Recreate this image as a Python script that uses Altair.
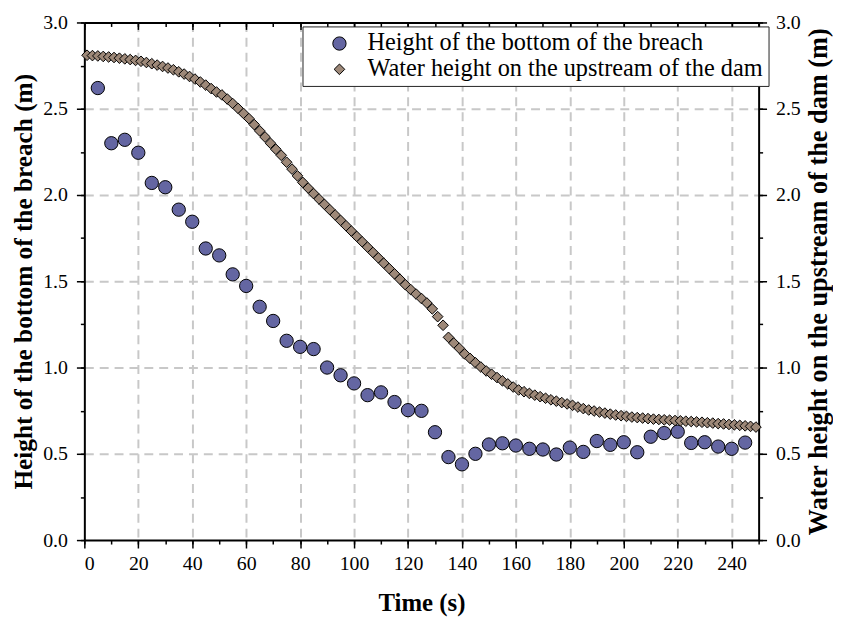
import altair as alt
import pandas as pd

# ---- data ----
series_names = ["Height of the bottom of the breach",
                "Water height on the upstream of the dam"]

t_breach = [5, 10, 15, 20, 25, 30, 35, 40, 45, 50,
            55, 60, 65, 70, 75, 80, 85, 90, 95, 100,
            105, 110, 115, 120, 125, 130, 135, 140, 145, 150,
            155, 160, 165, 170, 175, 180, 185, 190, 195, 200,
            205, 210, 215, 220, 225, 230, 235, 240, 245]
h_breach = [2.62, 2.30, 2.32, 2.245, 2.07, 2.045, 1.915, 1.845, 1.69, 1.65,
            1.54, 1.473, 1.352, 1.27, 1.155, 1.12, 1.107, 1.00, 0.955, 0.908,
            0.84, 0.856, 0.80, 0.753, 0.749, 0.625, 0.481, 0.439, 0.50, 0.554,
            0.561, 0.548, 0.529, 0.525, 0.496, 0.536, 0.511, 0.574, 0.552, 0.567,
            0.509, 0.599, 0.62, 0.628, 0.563, 0.567, 0.542, 0.529, 0.565]

t_water = list(range(1, 250, 2))
h_water = [2.810, 2.808, 2.806, 2.803, 2.800, 2.797, 2.793, 2.789, 2.785, 2.780,
           2.775, 2.768, 2.761, 2.753, 2.745, 2.736, 2.726, 2.714, 2.701, 2.687,
           2.672, 2.655, 2.637, 2.617, 2.597, 2.580, 2.556, 2.530, 2.502, 2.473,
           2.443, 2.408, 2.372, 2.336, 2.300, 2.265, 2.230, 2.190, 2.150, 2.111,
           2.073, 2.040, 2.008, 1.977, 1.946, 1.915, 1.884, 1.853, 1.822, 1.791,
           1.760, 1.729, 1.698, 1.667, 1.636, 1.605, 1.574, 1.543, 1.512, 1.480,
           1.452, 1.426, 1.400, 1.374, 1.340, 1.295, 1.245, 1.175, 1.142, 1.112,
           1.079, 1.053, 1.028, 1.003, 0.980, 0.961, 0.942, 0.923, 0.905, 0.887,
           0.870, 0.860, 0.850, 0.840, 0.831, 0.822, 0.813, 0.805, 0.797, 0.789,
           0.781, 0.771, 0.762, 0.754, 0.748, 0.742, 0.736, 0.730, 0.725, 0.721,
           0.717, 0.713, 0.710, 0.707, 0.704, 0.701, 0.699, 0.697, 0.695, 0.693,
           0.691, 0.689, 0.687, 0.685, 0.683, 0.680, 0.678, 0.675, 0.673, 0.670,
           0.668, 0.665, 0.662, 0.659, 0.655]

x_major = [0, 20, 40, 60, 80, 100, 120, 140, 160, 180, 200, 220, 240]
x_minor = [0, 10, 20, 30, 40, 50, 60, 70, 80, 90, 100, 110, 120, 130, 140,
           150, 160, 170, 180, 190, 200, 210, 220, 230, 240, 250]
x_grid = [20, 40, 60, 80, 100, 120, 140, 160, 180, 200, 220, 240]
y_major = [0.0, 0.5, 1.0, 1.5, 2.0, 2.5, 3.0]
y_minor = [0.0, 0.25, 0.5, 0.75, 1.0, 1.25, 1.5, 1.75, 2.0, 2.25, 2.5, 2.75, 3.0]
y_grid = [0.5, 1.0, 1.5, 2.0, 2.5]

colors = ["#6466a2", "#9d8878"]
shapes = ["circle", "diamond"]
sizes = [180, 115]

# ---- tables ----
df = pd.concat([
    pd.DataFrame({"t": t_breach, "v": h_breach, "series": series_names[0]}),
    pd.DataFrame({"t": t_water, "v": h_water, "series": series_names[1]}),
], ignore_index=True)

W, H = 680, 522
FONT = "Liberation Serif"
xs = alt.Scale(domain=[0, 250], nice=False, zero=False)
ys = alt.Scale(domain=[0, 3], nice=False, zero=False)

def ax(**kw):
    base = dict(labels=False, ticks=False, domain=False, grid=False, title="")
    base.update(kw)
    return alt.Axis(**base)

base = alt.Chart(df)

# grid layer
grid = base.mark_point(opacity=0).encode(
    x=alt.X("t:Q", scale=xs, axis=ax(orient="bottom", values=x_grid, grid=True,
                                      gridDash=[9, 6], gridColor="#c8c8c8", gridWidth=2)),
    y=alt.Y("v:Q", scale=ys, axis=ax(orient="left", values=y_grid, grid=True,
                                      gridDash=[9, 6], gridColor="#c8c8c8", gridWidth=2)),
)

# minor ticks bottom / left
minor_bl = base.mark_point(opacity=0).encode(
    x=alt.X("t:Q", scale=xs, axis=ax(orient="bottom", values=x_minor, ticks=True,
                                      tickSize=4, tickWidth=1.5, tickColor="black")),
    y=alt.Y("v:Q", scale=ys, axis=ax(orient="left", values=y_minor, ticks=True,
                                      tickSize=4, tickWidth=1.5, tickColor="black")),
)

# minor ticks top (inward) / right
minor_tr = base.mark_point(opacity=0).encode(
    x=alt.X("t:Q", scale=xs, axis=ax(orient="bottom", offset=-H, values=x_minor, ticks=True,
                                      tickSize=4, tickWidth=1.5, tickColor="black")),
    y=alt.Y("v:Q", scale=ys, axis=ax(orient="right", values=y_minor, ticks=True,
                                      tickSize=4, tickWidth=1.5, tickColor="black")),
)

# top frame + major top ticks, right axis (water height)
right = base.mark_point(opacity=0).encode(
    x=alt.X("t:Q", scale=xs, axis=ax(orient="bottom", offset=-H, values=x_major, ticks=True,
                                      tickSize=7, tickWidth=1.5, tickColor="black",
                                      domain=True, domainColor="black", domainWidth=2)),
    y=alt.Y("v:Q", scale=ys, axis=alt.Axis(
        orient="right", values=y_major, format=".1f", grid=False,
        ticks=True, tickSize=8, tickWidth=1.5, tickColor="black",
        domain=True, domainColor="black", domainWidth=2,
        labels=True, labelFont=FONT, labelFontSize=20, labelColor="black", labelPadding=9,
        title=series_names[1] + " (m)", titleFont=FONT, titleFontSize=26.5,
        titleFontWeight="bold", titleColor="black", titleAngle=270,
        titleBaseline="middle", titleX=60, titleY=H / 2)),
)

main = base.mark_point(filled=True, stroke="black", strokeWidth=1, opacity=1).encode(
    x=alt.X("t:Q", scale=xs, axis=alt.Axis(
        orient="bottom", values=x_major, grid=False,
        ticks=True, tickSize=8, tickWidth=1.5, tickColor="black",
        domain=True, domainColor="black", domainWidth=2,
        labels=True, labelFont=FONT, labelFontSize=20, labelColor="black", labelPadding=6,
        title="Time (s)", titleFont=FONT, titleFontSize=25, titleFontWeight="bold",
        titleColor="black", titleBaseline="middle", titleX=W / 2, titleY=63)),
    y=alt.Y("v:Q", scale=ys, axis=alt.Axis(
        orient="left", values=y_major, format=".1f", grid=False,
        ticks=True, tickSize=8, tickWidth=1.5, tickColor="black",
        domain=True, domainColor="black", domainWidth=2,
        labels=True, labelFont=FONT, labelFontSize=20, labelColor="black", labelPadding=9,
        title=series_names[0] + " (m)", titleFont=FONT, titleFontSize=25.5,
        titleFontWeight="bold", titleColor="black", titleAngle=270,
        titleBaseline="middle", titleX=-61, titleY=H / 2)),
    shape=alt.Shape("series:N", scale=alt.Scale(domain=series_names, range=shapes),
                    legend=alt.Legend(
                        title=None, orient="none", legendX=220, legendY=4,
                        fillColor="white", strokeColor="#222222", padding=5,
                        labelFont=FONT, labelFontSize=24.5, labelColor="black",
                        labelLimit=600, labelOffset=16, symbolOffset=20,
                        rowPadding=1, symbolStrokeColor="black", symbolStrokeWidth=1,
                        symbolOpacity=1)),
    fill=alt.Fill("series:N", scale=alt.Scale(domain=series_names, range=colors)),
    size=alt.Size("series:N", scale=alt.Scale(domain=series_names, range=sizes)),
)

chart = alt.layer(grid, minor_bl, minor_tr, right, main).resolve_scale(
    x="independent", y="independent"
).properties(
    width=W, height=H,
    autosize=alt.AutoSizeParams(type="none"),
    padding={"left": 77, "top": 12, "right": 75, "bottom": 76},
).configure_view(stroke="transparent")

chart.save("out.html", embed_options={"renderer": "svg", "actions": False})
